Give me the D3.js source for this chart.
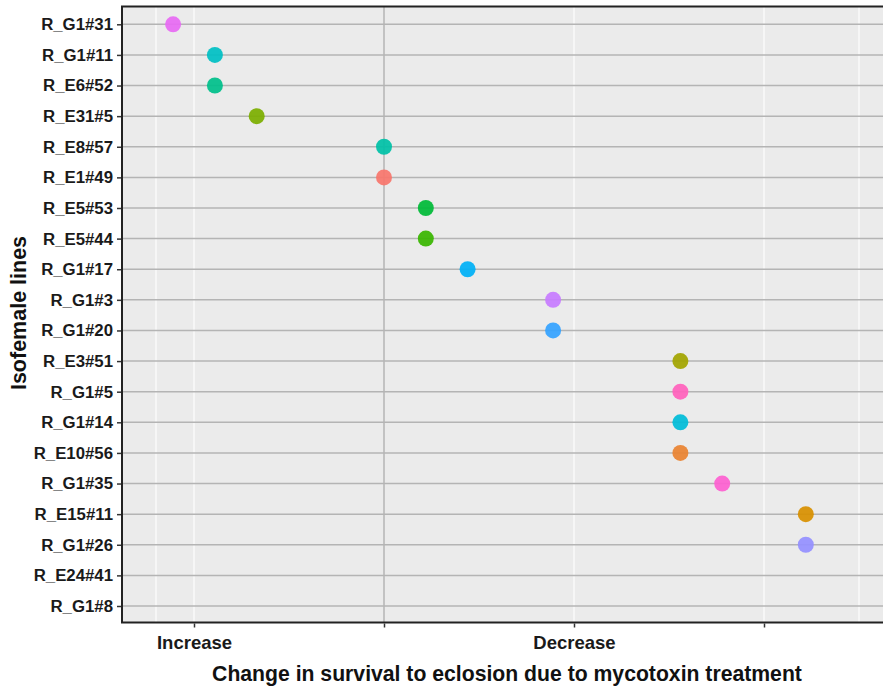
<!DOCTYPE html>
<html>
<head>
<meta charset="utf-8">
<script src="https://cdn.jsdelivr.net/npm/d3@7/dist/d3.min.js"></script>
<style>
  html, body { margin: 0; padding: 0; background: #fff; }
  svg { display: block; font-family: "Liberation Sans", Arial, sans-serif; }
</style>
</head>
<body>
<svg id="chart" width="883" height="687"></svg>
<script>
// Isofemale lines, top to bottom
const lines = [
  "R_G1#31", "R_G1#11", "R_E6#52", "R_E31#5", "R_E8#57", "R_E1#49", "R_E5#53",
  "R_E5#44", "R_G1#17", "R_G1#3", "R_G1#20", "R_E3#51", "R_G1#5", "R_G1#14",
  "R_E10#56", "R_G1#35", "R_E15#11", "R_G1#26", "R_E24#41", "R_G1#8"
];
// Change in survival (null = no estimate)
const change = [
  -1.11, -0.89, -0.89, -0.67, 0, 0, 0.22,
  0.22, 0.44, 0.89, 0.89, 1.56, 1.56, 1.56,
  1.56, 1.78, 2.22, 2.22, null, null
];
const pointColors = [
  "#E76BF3", "#00BFC4", "#00C08B", "#7CAE00", "#00C1A7", "#F8766D", "#00BA38",
  "#39B600", "#00B0F6", "#C77CFF", "#35A2FF", "#A3A500", "#FF62BC", "#00BCD8",
  "#EA8331", "#FD61D1", "#D89000", "#9590FF", "#999999", "#999999"
];
const xTicks = [-1, 0, 1, 2];
const xTickLabels = ["Increase", "", "Decrease", ""];
const xMinorGrid = [-1.2, 2.5];

const svg = d3.select("#chart");
const panel = { left: 122, right: 890, top: 6.5, bottom: 622.5 };

const x = d3.scaleLinear().domain([-1, 2]).range([194, 764]);
const y = d3.scalePoint().domain(lines).range([24.3, 606]);

// panel background
svg.append("rect")
  .attr("x", panel.left).attr("y", panel.top)
  .attr("width", panel.right - panel.left).attr("height", panel.bottom - panel.top)
  .attr("fill", "#EBEBEB");

// white vertical grid
svg.append("g").selectAll("line")
  .data(xTicks.filter(d => d !== 0).concat(xMinorGrid))
  .join("line")
  .attr("x1", d => x(d)).attr("x2", d => x(d))
  .attr("y1", panel.top).attr("y2", panel.bottom)
  .attr("stroke", "#FFFFFF").attr("stroke-width", 1.1);

// grey reference lines: one per isofemale line, plus zero
svg.append("g").selectAll("line")
  .data(lines)
  .join("line")
  .attr("x1", panel.left).attr("x2", panel.right)
  .attr("y1", d => y(d)).attr("y2", d => y(d))
  .attr("stroke", "#B4B4B4").attr("stroke-width", 1.5);

svg.append("line")
  .attr("x1", x(0)).attr("x2", x(0))
  .attr("y1", panel.top).attr("y2", panel.bottom)
  .attr("stroke", "#B4B4B4").attr("stroke-width", 1.5);

// points
const pts = lines.map((name, i) => ({ name, v: change[i], c: pointColors[i] }))
  .filter(d => d.v !== null);
svg.append("g").selectAll("circle")
  .data(pts)
  .join("circle")
  .attr("cx", d => x(d.v))
  .attr("cy", d => y(d.name))
  .attr("r", 8)
  .attr("fill", d => d.c)
  .attr("fill-opacity", 0.93);

// panel frame (top, left, bottom)
svg.append("path")
  .attr("d", `M${panel.right},${panel.top}H${panel.left}V${panel.bottom}H${panel.right}`)
  .attr("fill", "none").attr("stroke", "#222").attr("stroke-width", 2);

// y axis
const yAxis = svg.append("g")
  .attr("transform", `translate(${panel.left - 1},0)`)
  .call(d3.axisLeft(y).tickSize(4).tickPadding(4));
yAxis.select(".domain").remove();
yAxis.selectAll(".tick line").attr("stroke", "#333").attr("stroke-width", 1.5);
yAxis.selectAll(".tick text")
  .attr("fill", "#1a1a1a")
  .attr("font-size", "16.8px").attr("font-weight", "bold")
  .attr("font-family", "Liberation Sans, Arial, sans-serif");

// x axis
const xAxis = svg.append("g")
  .attr("transform", `translate(0,${panel.bottom + 1})`)
  .call(d3.axisBottom(x).tickValues(xTicks).tickFormat((d, i) => xTickLabels[i]).tickSize(4).tickPadding(8));
xAxis.select(".domain").remove();
xAxis.selectAll(".tick line").attr("stroke", "#333").attr("stroke-width", 1.5);
xAxis.selectAll(".tick text")
  .attr("fill", "#1a1a1a")
  .attr("font-size", "18.5px").attr("font-weight", "bold")
  .attr("font-family", "Liberation Sans, Arial, sans-serif");

// axis titles
svg.append("text")
  .attr("x", 507).attr("y", 681)
  .attr("text-anchor", "middle")
  .attr("font-size", "21.2px").attr("font-weight", "bold")
  .attr("fill", "#111")
  .text("Change in survival to eclosion due to mycotoxin treatment");

svg.append("text")
  .attr("transform", `translate(26,313) rotate(-90)`)
  .attr("text-anchor", "middle")
  .attr("font-size", "21.5px").attr("font-weight", "bold")
  .attr("fill", "#111")
  .text("Isofemale lines");
</script>
</body>
</html>
